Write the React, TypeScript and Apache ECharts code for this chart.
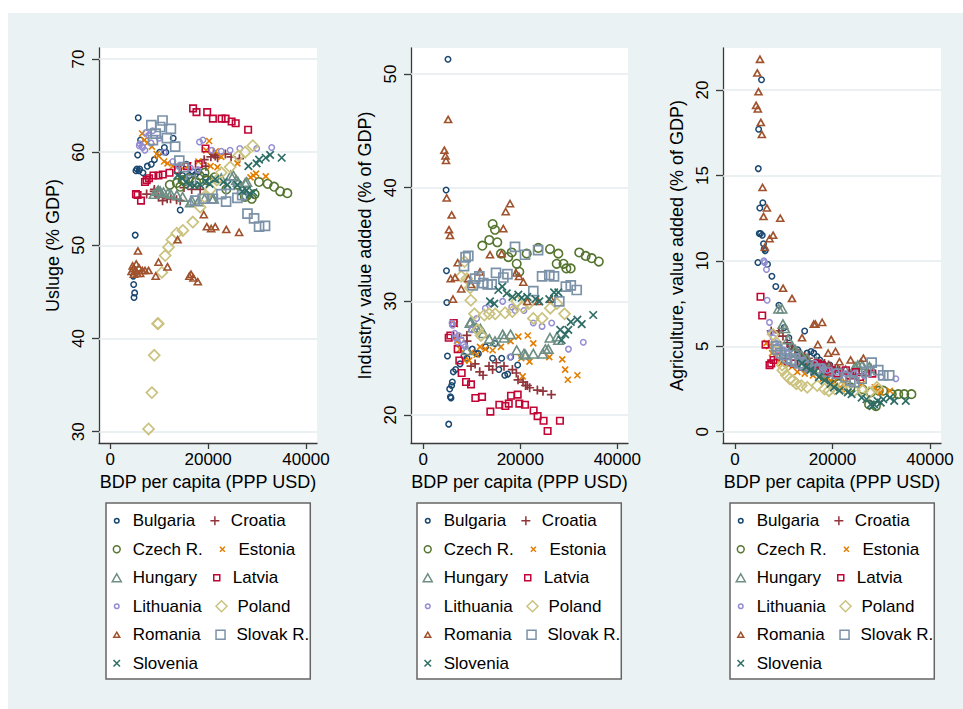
import React, { useEffect, useRef } from 'react';
import * as echarts from 'echarts';

const FONT = '"Liberation Sans", Arial, Helvetica, sans-serif';
const AX = '#3a3a3a';

const countries = ['Bulgaria', 'Croatia', 'Czech R.', 'Estonia', 'Hungary', 'Latvia', 'Lithuania', 'Poland', 'Romania', 'Slovak R.', 'Slovenia'];

const xTicks = [0, 20000, 40000];
const servicesTicks = [30, 40, 50, 60, 70];
const industryTicks = [20, 30, 40, 50];
const agricultureTicks = [0, 5, 10, 15, 20];

// GDP per capita (PPP USD) and sector shares (% of GDP)
const bulgariaGdp = [4700, 4780, 4850, 4980, 5090, 5240, 5440, 5590, 5710, 5850, 5990, 6190, 6670, 7570, 8370, 9010, 10100, 11050, 11360, 12860, 14290, 14780, 15580, 16160, 16800, 17400, 18020, 19460];
const bulgariaServices = [46.7, 45.8, 44.4, 44.9, 51.1, 58.0, 58.2, 59.7, 63.7, 58.0, 58.2, 61.3, 57.8, 58.5, 58.7, 59.2, 60.0, 60.5, 60.0, 61.5, 53.8, 57.5, 58.7, 57.5, 57.9, 57.6, 57.9, 57.3];
const bulgariaIndustry = [39.8, 32.7, 29.9, 25.2, 51.3, 19.2, 22.3, 21.6, 21.5, 22.6, 22.9, 23.8, 24.0, 24.5, 25.2, 25.0, 25.8, 25.4, 25.4, 26.0, 25.0, 26.3, 24.0, 25.0, 23.5, 23.6, 25.1, 24.4];
const bulgariaAgriculture = [9.9, 15.4, 17.7, 11.6, 13.1, 11.6, 20.6, 11.5, 13.4, 11.0, 10.7, 10.6, 9.8, 9.1, 8.5, 7.4, 6.1, 5.5, 5.0, 4.8, 5.9, 4.6, 4.7, 4.6, 4.4, 4.2, 4.0, 3.9];

const croatiaGdp = [7430, 8980, 9010, 9840, 10680, 11630, 12320, 13550, 14290, 15060, 16640, 18370, 19190, 19530, 20560, 21090, 21450, 21930, 23520, 24680, 26400];
const croatiaServices = [55.5, 55.8, 56.0, 55.2, 54.8, 55.0, 55.0, 54.9, 54.8, 56.2, 56.0, 56.0, 59.2, 58.5, 59.5, 59.8, 59.6, 59.4, 59.8, 59.5, 59.3];
const croatiaIndustry = [26.8, 27.0, 26.5, 24.3, 24.5, 23.8, 23.5, 24.3, 24.0, 24.6, 24.3, 24.0, 23.7, 23.1, 22.9, 22.6, 22.6, 22.4, 22.2, 22.1, 21.8];
const croatiaAgriculture = [5.9, 5.9, 5.8, 5.6, 5.2, 5.0, 4.8, 4.5, 4.4, 4.3, 4.1, 4.0, 3.9, 3.8, 3.7, 3.7, 3.6, 3.5, 3.4, 3.3, 3.3];

const czechGdp = [12170, 13600, 14300, 14780, 15260, 16020, 17530, 18230, 19260, 19800, 21320, 23710, 26120, 27840, 27500, 28910, 29500, 30390, 32160, 33480, 34720, 36190];
const czechServices = [56.5, 56.7, 56.3, 57.0, 56.9, 57.2, 56.8, 57.5, 57.8, 57.0, 57.3, 56.0, 56.5, 55.3, 55.2, 55.0, 55.5, 56.8, 56.6, 56.3, 55.8, 55.6];
const czechIndustry = [34.9, 35.4, 36.8, 36.3, 35.2, 34.2, 33.9, 34.3, 33.3, 32.6, 34.2, 34.7, 34.6, 34.2, 33.3, 33.3, 32.9, 32.9, 34.3, 34.0, 33.8, 33.5];
const czechAgriculture = [4.6, 4.3, 4.2, 4.0, 3.8, 3.9, 3.5, 3.3, 3.2, 3.0, 2.8, 2.6, 2.5, 2.3, 1.6, 1.5, 2.4, 2.4, 2.2, 2.2, 2.2, 2.2];

const estoniaGdp = [6500, 6940, 7600, 8500, 9480, 9860, 11000, 11700, 12800, 14300, 16000, 18000, 19590, 20200, 20490, 21540, 21900, 22680, 25980, 28660, 29250, 29800, 31770];
const estoniaServices = [62.0, 61.3, 61.0, 60.6, 59.8, 59.6, 59.0, 58.8, 58.5, 58.5, 58.6, 59.0, 60.2, 61.2, 58.5, 60.1, 58.4, 59.5, 58.8, 57.3, 57.5, 57.7, 57.4];
const estoniaIndustry = [28.0, 26.5, 25.8, 24.8, 24.8, 25.5, 25.3, 26.0, 25.8, 25.7, 26.0, 26.5, 26.9, 25.0, 23.4, 27.0, 24.7, 26.3, 25.1, 24.9, 24.0, 23.1, 23.5];
const estoniaAgriculture = [5.2, 5.0, 4.6, 4.4, 4.0, 4.1, 3.9, 3.8, 3.5, 3.4, 3.3, 3.1, 3.0, 2.9, 2.7, 2.6, 2.5, 2.9, 2.8, 2.6, 2.4, 2.3, 2.4];

const hungaryGdp = [8950, 9630, 9830, 10200, 10880, 11770, 12370, 13610, 14780, 16370, 16670, 17990, 19260, 20760, 21090, 22680, 24620, 25170, 25770, 26120, 27580, 27890];
const hungaryServices = [55.5, 55.8, 55.9, 55.8, 55.7, 55.6, 55.5, 55.4, 55.2, 54.6, 54.8, 54.7, 55.0, 55.0, 55.0, 57.2, 57.5, 57.5, 57.0, 56.8, 56.7, 56.8];
const hungaryIndustry = [25.7, 28.1, 28.2, 27.7, 27.7, 27.6, 27.2, 26.7, 26.5, 27.1, 26.8, 27.1, 25.7, 25.4, 25.3, 25.4, 25.4, 25.8, 25.8, 26.8, 26.9, 26.6];
const hungaryAgriculture = [7.2, 7.2, 6.3, 6.05, 5.4, 5.0, 4.8, 4.5, 4.3, 4.0, 4.1, 3.9, 3.7, 3.5, 3.4, 3.6, 3.8, 3.9, 4.0, 3.9, 3.8, 3.7];

const latviaGdp = [5240, 5580, 6270, 7090, 7430, 7910, 8810, 9840, 10730, 12110, 13830, 15680, 18080, 19460, 16920, 17620, 19800, 20970, 22750, 23570, 24800, 25630, 28170];
const latviaServices = [55.5, 55.4, 54.8, 56.8, 57.0, 57.2, 57.5, 57.5, 57.6, 57.8, 58.1, 58.5, 58.7, 60.4, 64.7, 64.3, 64.3, 63.6, 63.6, 63.6, 63.3, 63.1, 62.4];
const latviaIndustry = [26.8, 27.0, 28.1, 25.8, 24.8, 23.7, 22.9, 22.7, 21.5, 21.6, 20.3, 20.9, 21.7, 21.8, 20.8, 21.0, 21.0, 20.9, 20.4, 19.9, 19.5, 18.6, 19.5];
const latviaAgriculture = [7.9, 6.8, 5.1, 3.9, 4.0, 4.2, 4.4, 4.3, 4.1, 4.0, 3.8, 3.9, 3.6, 3.5, 4.0, 3.9, 3.6, 3.4, 3.6, 3.3, 3.5, 3.2, 3.4];

const lithuaniaGdp = [5920, 6050, 6460, 6600, 7070, 7280, 7820, 8300, 8640, 9980, 11000, 12790, 14000, 16370, 17880, 18230, 18930, 20760, 22680, 24490, 26470, 29930, 32990];
const lithuaniaServices = [60.7, 60.9, 60.6, 60.5, 60.2, 62.1, 61.8, 61.0, 62.3, 61.5, 60.0, 59.0, 58.5, 58.3, 58.1, 61.1, 61.3, 60.2, 60.1, 60.2, 60.4, 60.4, 60.5];
const lithuaniaIndustry = [28.1, 27.9, 27.2, 26.8, 26.4, 27.0, 26.6, 26.2, 26.0, 27.5, 28.5, 29.4, 29.8, 30.0, 25.1, 29.5, 29.2, 29.2, 28.1, 27.8, 28.1, 25.8, 26.4];
const lithuaniaAgriculture = [10.0, 9.9, 9.5, 7.7, 6.4, 5.8, 5.5, 5.2, 5.0, 4.8, 4.6, 4.4, 4.2, 4.0, 3.8, 3.7, 3.6, 3.5, 3.4, 3.4, 3.3, 3.2, 3.1];

const polandGdp = [7820, 8500, 8980, 9660, 9800, 10540, 11220, 11900, 12590, 13600, 14830, 16870, 18370, 19260, 20500, 21770, 22680, 24490, 26190, 27550, 29120];
const polandServices = [30.3, 34.2, 38.2, 41.6, 41.6, 47.1, 48.9, 49.8, 50.6, 51.3, 51.6, 52.5, 54.1, 55.2, 56.0, 57.0, 57.8, 58.4, 59.6, 60.0, 60.7];
const polandIndustry = [32.2, 33.5, 32.0, 31.2, 30.1, 28.9, 27.5, 27.0, 28.8, 28.9, 28.9, 29.0, 29.1, 30.0, 29.5, 29.8, 28.5, 28.5, 29.4, 29.8, 28.9];
const polandAgriculture = [5.7, 5.2, 4.6, 3.9, 3.6, 3.3, 3.1, 3.0, 2.8, 2.7, 2.6, 2.7, 2.5, 2.4, 2.5, 2.6, 2.5, 2.4, 2.4, 2.3, 2.6];

const romaniaGdp = [4340, 4570, 4680, 4820, 5120, 5300, 5510, 5650, 5850, 6120, 6540, 7090, 7820, 9280, 9860, 11690, 13750, 16160, 16500, 16990, 17880, 19110, 19730, 20620, 21440, 23710, 26330];
const romaniaServices = [47.2, 47.8, 47.5, 46.9, 47.3, 48.0, 47.0, 49.4, 47.6, 47.0, 47.3, 47.3, 47.3, 46.7, 48.2, 47.7, 50.6, 46.7, 46.9, 46.5, 46.1, 53.3, 52.0, 51.8, 52.0, 51.7, 51.4];
const romaniaIndustry = [43.3, 42.8, 42.4, 39.1, 46.0, 36.3, 35.8, 32.0, 37.6, 30.2, 32.1, 33.4, 31.1, 32.0, 31.5, 32.6, 34.1, 34.2, 36.4, 37.9, 38.6, 32.5, 32.2, 31.7, 30.0, 30.0, 30.2];
const romaniaAgriculture = [19.1, 21.0, 18.9, 19.9, 21.8, 18.1, 17.4, 14.3, 12.6, 10.8, 13.1, 11.3, 11.5, 12.5, 8.4, 7.8, 5.5, 6.3, 6.3, 5.1, 6.4, 4.6, 5.4, 4.7, 4.1, 4.2, 4.3];

const slovakGdp = [8390, 8710, 9280, 10200, 10680, 11560, 12380, 13260, 14100, 14990, 16500, 17350, 18910, 20970, 22680, 23670, 24490, 25980, 26950, 28040, 29390, 30410, 31630];
const slovakServices = [62.9, 61.3, 62.0, 62.7, 63.4, 61.5, 62.5, 60.6, 59.1, 58.4, 57.0, 54.8, 55.0, 55.0, 55.5, 54.7, 56.5, 55.1, 55.4, 53.4, 52.9, 52.0, 52.1];
const slovakIndustry = [33.1, 33.9, 34.0, 31.4, 32.0, 32.2, 31.6, 31.5, 31.5, 32.5, 32.1, 32.4, 34.8, 34.1, 30.9, 34.5, 32.2, 32.3, 32.2, 30.0, 31.3, 31.4, 31.0];
const slovakAgriculture = [5.0, 4.8, 4.6, 4.5, 4.3, 4.2, 4.1, 4.0, 3.9, 3.8, 3.6, 3.7, 3.5, 3.4, 3.2, 3.0, 2.9, 3.1, 3.5, 4.05, 3.6, 3.3, 3.3];

const sloveniaGdp = [13750, 14630, 15460, 16290, 17200, 18370, 19590, 20290, 21430, 23130, 23920, 25980, 26970, 27840, 28230, 28530, 29250, 29900, 30410, 31770, 32660, 35030];
const sloveniaServices = [57.5, 57.2, 56.8, 56.5, 56.4, 56.5, 56.8, 56.6, 57.1, 56.8, 56.5, 56.5, 55.8, 55.9, 58.5, 55.5, 55.7, 58.8, 59.2, 59.4, 59.7, 59.4];
const sloveniaIndustry = [30.0, 29.8, 31.0, 31.3, 30.7, 30.4, 30.6, 30.3, 30.4, 30.2, 30.0, 30.2, 30.8, 30.8, 27.5, 26.6, 27.1, 27.5, 28.2, 28.4, 28.0, 28.8];
const sloveniaAgriculture = [4.0, 3.8, 3.6, 3.5, 3.2, 3.0, 2.8, 2.6, 2.4, 2.3, 2.2, 2.0, 1.9, 1.6, 1.5, 1.6, 1.8, 1.7, 1.9, 2.0, 1.8, 1.8];

const gdpByCountry = [bulgariaGdp, croatiaGdp, czechGdp, estoniaGdp, hungaryGdp, latviaGdp, lithuaniaGdp, polandGdp, romaniaGdp, slovakGdp, sloveniaGdp];
const servicesByCountry = [bulgariaServices, croatiaServices, czechServices, estoniaServices, hungaryServices, latviaServices, lithuaniaServices, polandServices, romaniaServices, slovakServices, sloveniaServices];
const industryByCountry = [bulgariaIndustry, croatiaIndustry, czechIndustry, estoniaIndustry, hungaryIndustry, latviaIndustry, lithuaniaIndustry, polandIndustry, romaniaIndustry, slovakIndustry, sloveniaIndustry];
const agricultureByCountry = [bulgariaAgriculture, croatiaAgriculture, czechAgriculture, estoniaAgriculture, hungaryAgriculture, latviaAgriculture, lithuaniaAgriculture, polandAgriculture, romaniaAgriculture, slovakAgriculture, sloveniaAgriculture];

// ---- legend icon paths inside a 16x16 frame ----
const FRAME = 'M0,0L0,0.01M16,16L16,15.99';
const circIcon = (r: number) => `path://${FRAME}M${8 - r},8A${r},${r},0,1,0,${8 + r},8A${r},${r},0,1,0,${8 - r},8Z`;
const triIcon = (s: number) => { const h = s * 0.87; return `path://${FRAME}M8,${8 - h / 2}L${8 + s / 2},${8 + h / 2}L${8 - s / 2},${8 + h / 2}Z`; };
const sqIcon = (s: number) => `path://${FRAME}M${8 - s / 2},${8 - s / 2}L${8 + s / 2},${8 - s / 2}L${8 + s / 2},${8 + s / 2}L${8 - s / 2},${8 + s / 2}Z`;
const diaIcon = (d: number) => `path://${FRAME}M8,${8 - d}L${8 + d},8L8,${8 + d}L${8 - d},8Z`;
const plusIcon = (s: number) => `path://${FRAME}M8,${8 - s / 2}L8,${8 + s / 2}M${8 - s / 2},8L${8 + s / 2},8`;
const xIcon = (s: number) => `path://${FRAME}M${8 - s / 2},${8 - s / 2}L${8 + s / 2},${8 + s / 2}M${8 + s / 2},${8 - s / 2}L${8 - s / 2},${8 + s / 2}`;

const PLUS = 'path://M5,0L5,10M0,5L10,5';
const CROSS = 'path://M0,0L10,10M10,0L0,10';

const markerStyles = [
  { color: '#1a476f', symbol: 'circle', size: 5.5, bw: 1.5, icon: circIcon(2.3) },
  { color: '#90353b', symbol: PLUS, size: 9, bw: 1.7, icon: plusIcon(9) },
  { color: '#55752f', symbol: 'circle', size: 8.5, bw: 1.6, icon: circIcon(3.4) },
  { color: '#e37e00', symbol: CROSS, size: 6, bw: 1.6, icon: xIcon(5) },
  { color: '#6e8e84', symbol: 'triangle', size: [9.5, 8.5], bw: 1.6, icon: triIcon(9) },
  { color: '#c10534', symbol: 'rect', size: 6.5, bw: 1.6, icon: sqIcon(6) },
  { color: '#938dd2', symbol: 'circle', size: 5.5, bw: 1.5, icon: circIcon(2.3) },
  { color: '#cac27e', symbol: 'diamond', size: 11, bw: 1.7, icon: diaIcon(5.5) },
  { color: '#a0522d', symbol: 'triangle', size: [7, 6.2], bw: 1.6, icon: triIcon(6) },
  { color: '#7b92a8', symbol: 'rect', size: 9, bw: 1.7, icon: sqIcon(9) },
  { color: '#2d6d66', symbol: CROSS, size: 7.5, bw: 1.7, icon: xIcon(6.5) },
];

const panelDefs = [
  { values: servicesByCountry, ticks: servicesTicks, yMin: 28.79, yMax: 71.18, xMin: -2310, xMax: 42250, name: 'Usluge (% GDP)', left: 91, width: 218, legendLeft: 98 },
  { values: industryByCountry, ticks: industryTicks, yMin: 17.54, yMax: 52.29, xMin: -2536, xMax: 42206, name: 'Industry, value added (% of GDP)', left: 403, width: 217, legendLeft: 409 },
  { values: agricultureByCountry, ticks: agricultureTicks, yMin: -0.66, yMax: 22.46, xMin: -2460, xMax: 42256, name: 'Agriculture, value added (% of GDP)', left: 715, width: 218, legendLeft: 722 },
];

const plainNumber = (v: number) => String(Math.round(v));

function buildOption() {
  const grid = panelDefs.map((p) => ({ left: p.left, top: 35, width: p.width, height: 395, show: true, backgroundColor: '#ffffff', borderWidth: 0 }));
  const xAxis = panelDefs.map((p, i) => ({
    type: 'value', gridIndex: i, min: p.xMin, max: p.xMax,
    name: 'BDP per capita (PPP USD)', nameLocation: 'middle', nameGap: 30,
    nameTextStyle: { fontSize: 18, color: '#000', fontFamily: FONT },
    axisLine: { show: true, onZero: false, lineStyle: { color: AX, width: 1.3 } },
    axisTick: { show: true, length: 6, customValues: xTicks, lineStyle: { color: AX, width: 1.3 } },
    axisLabel: { customValues: xTicks, formatter: plainNumber, fontSize: 17, color: '#000', fontFamily: FONT, margin: 8 },
    splitLine: { show: false },
  }));
  const yAxis = panelDefs.map((p, i) => ({
    type: 'value', gridIndex: i, min: p.yMin, max: p.yMax,
    name: p.name, nameLocation: 'middle', nameGap: 37,
    nameTextStyle: { fontSize: 18, color: '#000', fontFamily: FONT },
    axisLine: { show: true, onZero: false, lineStyle: { color: AX, width: 1.3 } },
    axisTick: { show: true, length: 7, customValues: p.ticks, lineStyle: { color: AX, width: 1.3 } },
    axisLabel: { customValues: p.ticks, formatter: plainNumber, rotate: 90, fontSize: 17, color: '#000', fontFamily: FONT, margin: 12 },
    splitLine: { show: false },
  }));
  const series: any[] = [];
  panelDefs.forEach((p, pi) => {
    countries.forEach((name, ci) => {
      const st = markerStyles[ci];
      const xs = gdpByCountry[ci];
      const ys = p.values[ci];
      const s: any = {
        type: 'scatter', name, xAxisIndex: pi, yAxisIndex: pi,
        data: xs.map((x, k) => [x, ys[k]]),
        symbol: st.symbol, symbolSize: st.size,
        itemStyle: { color: 'rgba(0,0,0,0)', borderColor: st.color, borderWidth: st.bw, opacity: 1 },
        emphasis: { disabled: true },
        z: 2,
      };
      if (ci === 0) {
        s.markLine = {
          silent: true, symbol: ['none', 'none'], z: 1,
          label: { show: false },
          lineStyle: { color: '#e5edef', width: 1.5, type: 'solid' },
          emphasis: { disabled: true },
          data: p.ticks.map((v) => ({ yAxis: v })),
        };
      }
      series.push(s);
    });
  });
  const legend = panelDefs.map((p) => ({
    left: p.legendLeft, top: 490, orient: 'horizontal', width: 205,
    itemWidth: 18, itemHeight: 16, itemGap: 11,
    padding: [9, 1, 7, 2], backgroundColor: '#ffffff', borderColor: '#666666', borderWidth: 1.5, borderRadius: 0,
    selectedMode: false,
    textStyle: { fontSize: 17, color: '#000', fontFamily: FONT, width: 72, padding: [0, 0, 0, 2] },
    data: countries.map((n, i) => ({
      name: n, icon: markerStyles[i].icon,
      itemStyle: { color: 'rgba(0,0,0,0)', borderColor: markerStyles[i].color, borderWidth: 1.5 },
    })),
  }));
  return {
    animation: false,
    backgroundColor: '#eaf2f3',
    textStyle: { fontFamily: FONT },
    grid, xAxis, yAxis, series, legend,
  };
}

export default function App() {
  const ref = useRef<HTMLDivElement>(null);
  useEffect(() => {
    if (!ref.current) return;
    const chart = echarts.init(ref.current, undefined, { renderer: 'svg' });
    chart.setOption(buildOption() as any);
    return () => chart.dispose();
  }, []);
  return (
    <div style={{ position: 'fixed', left: 0, top: 0, width: 963, height: 709, background: '#ffffff' }}>
      <div ref={ref} style={{ position: 'absolute', left: 8, top: 13, width: 955, height: 696 }} />
    </div>
  );
}
